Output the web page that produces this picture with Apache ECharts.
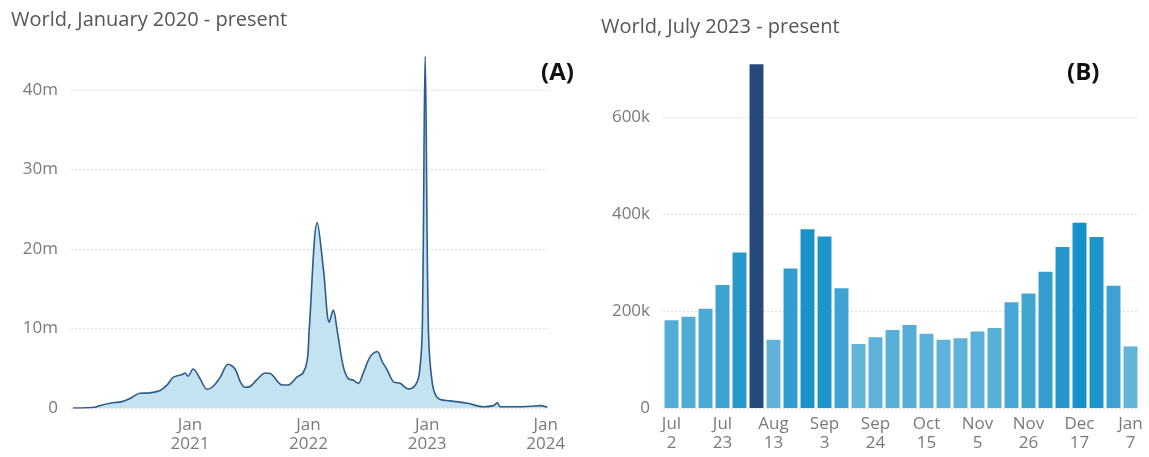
<!DOCTYPE html>
<html>
<head>
<meta charset="utf-8">
<script src="https://cdn.jsdelivr.net/npm/echarts@6/dist/echarts.min.js"></script>
<style>
  html, body { margin: 0; padding: 0; background: #fff; }
  #chart { width: 1149px; height: 457px; }
</style>
</head>
<body>
<div id="chart"></div>
<script>
// Weekly confirmed cases, world, January 2020 onwards (panel A)
const casesDates = [
  '2020-01-07','2020-01-29','2020-03-15','2020-03-30','2020-04-30','2020-06-06','2020-07-01',
  '2020-07-31','2020-08-31','2020-10-01','2020-10-23','2020-11-10','2020-12-08','2020-12-17',
  '2020-12-26','2021-01-11','2021-02-01','2021-02-23','2021-03-13','2021-04-04','2021-04-29',
  '2021-05-20','2021-06-05','2021-06-20','2021-07-05','2021-07-27','2021-08-21','2021-09-05',
  '2021-10-12','2021-10-30','2021-11-27','2021-12-15','2021-12-28','2022-01-03','2022-01-28',
  '2022-02-16','2022-03-06','2022-03-18','2022-03-30','2022-04-18','2022-05-03','2022-05-19',
  '2022-06-03','2022-06-18','2022-07-10','2022-07-31','2022-08-16','2022-08-31','2022-09-19',
  '2022-10-10','2022-11-04','2022-11-26','2022-12-08','2022-12-17','2022-12-26','2023-01-05',
  '2023-01-17','2023-02-04','2023-03-13','2023-05-05','2023-06-23','2023-07-24','2023-08-05',
  '2023-08-14','2023-10-06','2023-11-15','2023-12-16','2024-01-06'
];
const casesValues = [
  0, 0, 100000, 300000, 600000, 800000, 1200000,
  1850000, 1900000, 2200000, 2900000, 3850000, 4200000, 4400000,
  4000000, 4900000, 3700000, 2350000, 2700000, 3850000, 5500000,
  4900000, 3300000, 2600000, 2700000, 3600000, 4400000, 4350000,
  2900000, 2900000, 3900000, 4400000, 6000000, 9800000, 23300000,
  17400000, 10800000, 12300000, 9800000, 5200000, 3700000, 3500000,
  3100000, 4350000, 6450000, 7100000, 5800000, 4800000, 3300000,
  3100000, 2400000, 2900000, 4350000, 9800000, 44200000, 9800000,
  3100000, 1200000, 900000, 600000, 150000, 300000, 650000,
  150000, 150000, 220000, 300000, 100000
];
const yearTicks = ['2021-01-01', '2022-01-01', '2023-01-01', '2024-01-01'];

// Weekly confirmed cases, world, July 2023 onwards (panel B)
const weekLabels = [
  'Jul 2','Jul 9','Jul 16','Jul 23','Jul 30','Aug 6','Aug 13','Aug 20','Aug 27','Sep 3',
  'Sep 10','Sep 17','Sep 24','Oct 1','Oct 8','Oct 15','Oct 22','Oct 29','Nov 5','Nov 12',
  'Nov 19','Nov 26','Dec 3','Dec 10','Dec 17','Dec 24','Dec 31','Jan 7'
];
const weekValues = [
  181000, 188000, 205000, 254000, 321000, 709000, 141000, 288000, 369000, 354000,
  247000, 132000, 146000, 161000, 171000, 153000, 141000, 144000, 158000, 165000,
  218000, 236000, 281000, 332000, 382000, 353000, 252000, 127000
];
const highlightedWeek = 'Aug 6';

const labelFont = '"Open Sans", "Noto Sans", sans-serif';
const toTime = d => Date.UTC(+d.slice(0, 4), +d.slice(5, 7) - 1, +d.slice(8, 10));

function fmtCases(v) {
  if (v === 0) return '0';
  if (v >= 1e6) return Math.round(v / 1e6) + 'm';
  return Math.round(v / 1e3) + 'k';
}

// Bar shade deepens with the weekly count
function barShade(v) {
  const lo = [98, 180, 218], hi = [21, 144, 200];
  const t = Math.max(0, Math.min(1, (v - 130000) / (380000 - 130000)));
  const c = lo.map((a, i) => Math.round(a + (hi[i] - a) * t));
  return 'rgb(' + c.join(',') + ')';
}

const chart = echarts.init(document.getElementById('chart'), null, { renderer: 'canvas' });

const gridLine = {
  show: true, showMinLine: true, showMaxLine: false,
  lineStyle: { color: '#dcdcdc', type: [2, 2], width: 1 }
};
const tickLabel = { color: '#7a7a7a', fontSize: 17, fontFamily: labelFont };
const titleStyle = { color: '#555', fontSize: 20, fontWeight: 'normal', fontFamily: labelFont };
const panelStyle = { color: '#111', fontSize: 24, fontWeight: 'bold', fontFamily: labelFont };

chart.setOption({
  animation: false,
  title: [
    { text: 'World, January 2020 - present', left: 6, top: 5, textStyle: titleStyle },
    { text: 'World, July 2023 - present', left: 596, top: 12, textStyle: titleStyle },
    { text: '(A)', left: 536, top: 56, textStyle: panelStyle },
    { text: '(B)', left: 1062, top: 56, textStyle: panelStyle }
  ],
  grid: [
    { left: 71, top: 50, width: 477, height: 358 },
    { left: 663, top: 59, width: 476, height: 349 }
  ],
  xAxis: [
    {
      gridIndex: 0, type: 'value',
      min: toTime('2020-01-01'), max: toTime('2024-01-08'),
      axisLine: { show: false }, axisTick: { show: false },
      splitLine: { show: false },
      axisLabel: Object.assign({}, tickLabel, {
        customValues: yearTicks.map(toTime),
        formatter: v => 'Jan\n' + new Date(v).getUTCFullYear(),
        lineHeight: 19, margin: 8, hideOverlap: false
      })
    },
    {
      gridIndex: 1, type: 'category', data: weekLabels,
      axisLine: { show: false }, axisTick: { show: false },
      axisLabel: Object.assign({}, tickLabel, {
        interval: 2,
        formatter: s => s.replace(' ', '\n'),
        lineHeight: 19, margin: 7
      })
    }
  ],
  yAxis: [
    {
      gridIndex: 0, type: 'value', min: 0, max: 45000000, interval: 10000000,
      axisLine: { show: false }, axisTick: { show: false },
      splitLine: gridLine,
      axisLabel: Object.assign({}, tickLabel, { margin: 13, showMaxLabel: false, formatter: fmtCases })
    },
    {
      gridIndex: 1, type: 'value', min: 0, max: 720000, interval: 200000,
      axisLine: { show: false }, axisTick: { show: false },
      splitLine: gridLine,
      axisLabel: Object.assign({}, tickLabel, { margin: 13, showMaxLabel: false, formatter: fmtCases })
    }
  ],
  series: [
    {
      type: 'line', xAxisIndex: 0, yAxisIndex: 0,
      data: casesDates.map((d, i) => [toTime(d), casesValues[i]]),
      smooth: 0.35,
      showSymbol: false,
      lineStyle: { color: '#2c5c8f', width: 1.6 },
      areaStyle: { color: '#c2e3ef', opacity: 1 }
    },
    {
      type: 'bar', xAxisIndex: 1, yAxisIndex: 1,
      barCategoryGap: '18%',
      data: weekValues.map((v, i) => ({
        value: v,
        itemStyle: { color: weekLabels[i] === highlightedWeek ? '#244a7c' : barShade(v) }
      }))
    }
  ]
});
</script>
</body>
</html>
